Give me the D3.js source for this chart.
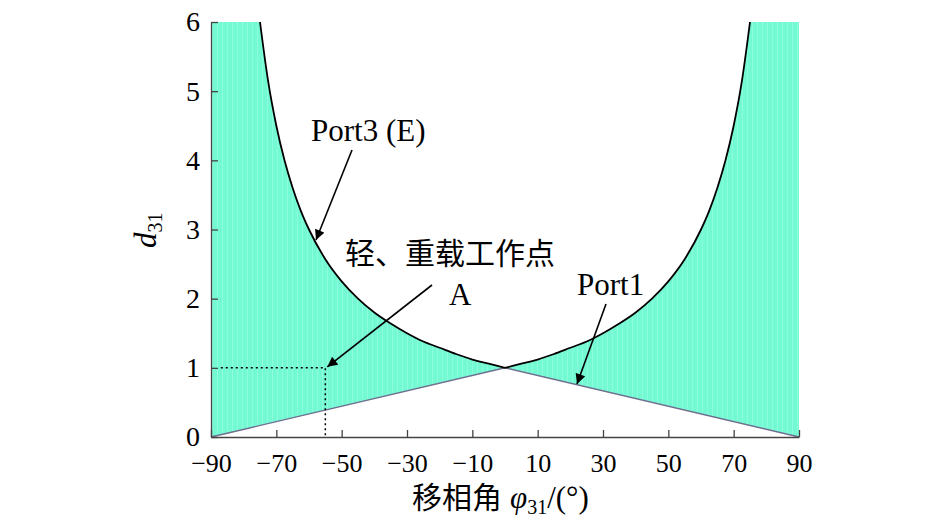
<!DOCTYPE html>
<html lang="zh">
<head>
<meta charset="UTF-8">
<title>d31 vs phi31</title>
<script src="https://cdn.jsdelivr.net/npm/d3@7/dist/d3.min.js"></script>
<style>
    body { margin: 0; background: #fff; }
    svg { display: block; }
    .axis path, .axis line { stroke: #444; stroke-width: 1.3; fill: none; }
    .axis text { font-family: "Liberation Serif", "DejaVu Serif", serif; fill: #000; }
    .lbl { font-family: "Liberation Serif", serif; font-size: 31px; fill: #000; }
    .cjk { font-family: "Noto Sans CJK SC", sans-serif; font-size: 30px; fill: #000; }
</style>
</head>
<body>
<svg width="945" height="531"></svg>
<script>
    var phiLeft = [-75, -72.5, -70, -67.5, -65, -62.5, -60, -55, -50, -45, -40, -35, -30, -25, -20, -15, -10, -5, 0];
    var dLeft = [6.0, 5.14, 4.5, 4.0, 3.6, 3.27, 3.0, 2.57, 2.25, 2.0, 1.8, 1.64, 1.5, 1.38, 1.29, 1.2, 1.12, 1.06, 1.0];
    var phiRight = [0, 5, 10, 15, 20, 25, 30, 35, 40, 45, 50, 55, 60, 62.5, 65, 67.5, 70, 72.5, 75];
    var dRight = [1.0, 1.06, 1.12, 1.2, 1.29, 1.38, 1.5, 1.64, 1.8, 2.0, 2.25, 2.57, 3.0, 3.27, 3.6, 4.0, 4.5, 5.14, 6.0];
    // Port1 line
    var phiPort1 = [-90, 0, 90];
    var dPort1 = [0, 1, 0];
    // operating point A
    var pointA = {phi: -55, d: 1};
    var xTicks = [-90, -70, -50, -30, -10, 10, 30, 50, 70, 90];
    var yTicks = [0, 1, 2, 3, 4, 5, 6];

    var svg = d3.select("svg");
    var x = d3.scaleLinear().domain([-90, 90]).range([211, 799]);
    var y = d3.scaleLinear().domain([0, 6]).range([437, 22]);

    // striped aquamarine fill
    var defs = svg.append("defs");
    var pat = defs.append("pattern")
            .attr("id", "stripes")
            .attr("patternUnits", "userSpaceOnUse")
            .attr("width", 5).attr("height", 10);
    pat.append("rect").attr("width", 5).attr("height", 10).attr("fill", "#74fad3");
    pat.append("rect").attr("x", 2).attr("width", 1).attr("height", 10).attr("fill", "#8cfcde");

    var line = d3.line().x(function (d) { return x(d[0]); }).y(function (d) { return y(d[1]); });
    var curve = d3.line().curve(d3.curveMonotoneX)
            .x(function (d) { return x(d[0]); }).y(function (d) { return y(d[1]); });
    var port3L = phiLeft.map(function (p, i) { return [p, dLeft[i]]; });
    var port3R = phiRight.map(function (p, i) { return [p, dRight[i]]; });
    var port1 = phiPort1.map(function (p, i) { return [p, dPort1[i]]; });
    var yMax = y.domain()[1];

    // left lobe: up the axis, along the top, down the curve, back along Port1
    var leftD = line([[phiPort1[0], dPort1[0]], [phiPort1[0], yMax]]) + "L" + curve(port3L).slice(1) + "Z";
    var rightD = curve(port3R) + "L" + line([[phiPort1[2], yMax], [phiPort1[2], dPort1[2]]]).slice(1) + "Z";
    svg.append("path").attr("d", leftD).attr("fill", "url(#stripes)");
    svg.append("path").attr("d", rightD).attr("fill", "url(#stripes)");

    // Port1 line
    svg.append("path").attr("d", line(port1))
            .attr("fill", "none").attr("stroke", "#6e6e8e").attr("stroke-width", 1.4);
    // Port3 curve
    svg.append("path").attr("d", curve(port3L))
            .attr("fill", "none").attr("stroke", "#000").attr("stroke-width", 1.8);
    svg.append("path").attr("d", curve(port3R))
            .attr("fill", "none").attr("stroke", "#000").attr("stroke-width", 1.8);

    // dotted guides to A
    svg.append("path")
            .attr("d", line([[-87, pointA.d], [pointA.phi, pointA.d], [pointA.phi, 0]]))
            .attr("fill", "none").attr("stroke", "#000").attr("stroke-width", 1.5)
            .attr("stroke-dasharray", "2,3");

    // axes
    var ax = svg.append("g").attr("class", "axis")
            .attr("transform", "translate(0," + y(0) + ")")
            .call(d3.axisBottom(x).tickValues(xTicks).tickSize(-7).tickSizeOuter(0).tickPadding(17));
    ax.selectAll("text").style("font-size", "26px");
    var ay = svg.append("g").attr("class", "axis")
            .attr("transform", "translate(" + x(-90) + ",0)")
            .call(d3.axisLeft(y).tickValues(yTicks).tickFormat(d3.format("d"))
                    .tickSize(-7).tickSizeOuter(0).tickPadding(11));
    ay.selectAll("text").style("font-size", "28px");

    // arrows
    var mk = defs.append("marker")
            .attr("id", "arr").attr("viewBox", "0 0 10 10")
            .attr("refX", 10).attr("refY", 5)
            .attr("markerWidth", 11).attr("markerHeight", 10)
            .attr("markerUnits", "userSpaceOnUse")
            .attr("orient", "auto");
    mk.append("path").attr("d", "M0,0 L10,5 L0,10 Z").attr("fill", "#000");
    function arrow(x1, y1, x2, y2) {
        svg.append("line").attr("x1", x1).attr("y1", y1).attr("x2", x2).attr("y2", y2)
                .attr("stroke", "#000").attr("stroke-width", 1.6)
                .attr("marker-end", "url(#arr)");
    }
    arrow(352, 150, 316, 240);
    arrow(432, 285, x(pointA.phi) + 2, y(pointA.d) - 1);
    arrow(606, 304, 577, 384);

    // annotations
    svg.append("text").attr("class", "lbl").attr("x", 311).attr("y", 141).text("Port3 (E)");
    svg.append("text").attr("class", "cjk").attr("x", 345).attr("y", 264).text("轻、重载工作点");
    svg.append("text").attr("class", "lbl").attr("x", 449).attr("y", 305).text("A");
    svg.append("text").attr("class", "lbl").attr("x", 577).attr("y", 295).text("Port1");

    // axis titles
    var xt = svg.append("text").attr("x", 412).attr("y", 508);
    xt.append("tspan").attr("class", "cjk").text("移相角");
    xt.append("tspan").attr("class", "lbl").attr("dx", 8).style("font-style", "italic").text("φ");
    xt.append("tspan").attr("class", "lbl").style("font-size", "20px").attr("dy", 6).text("31");
    xt.append("tspan").attr("class", "lbl").attr("dy", -6).text("/(°)");

    var yt = svg.append("text").attr("transform", "translate(156,248) rotate(-90)");
    yt.append("tspan").attr("class", "lbl").style("font-style", "italic").text("d");
    yt.append("tspan").attr("class", "lbl").style("font-size", "20px").attr("dy", 6).text("31");
</script>
</body>
</html>
